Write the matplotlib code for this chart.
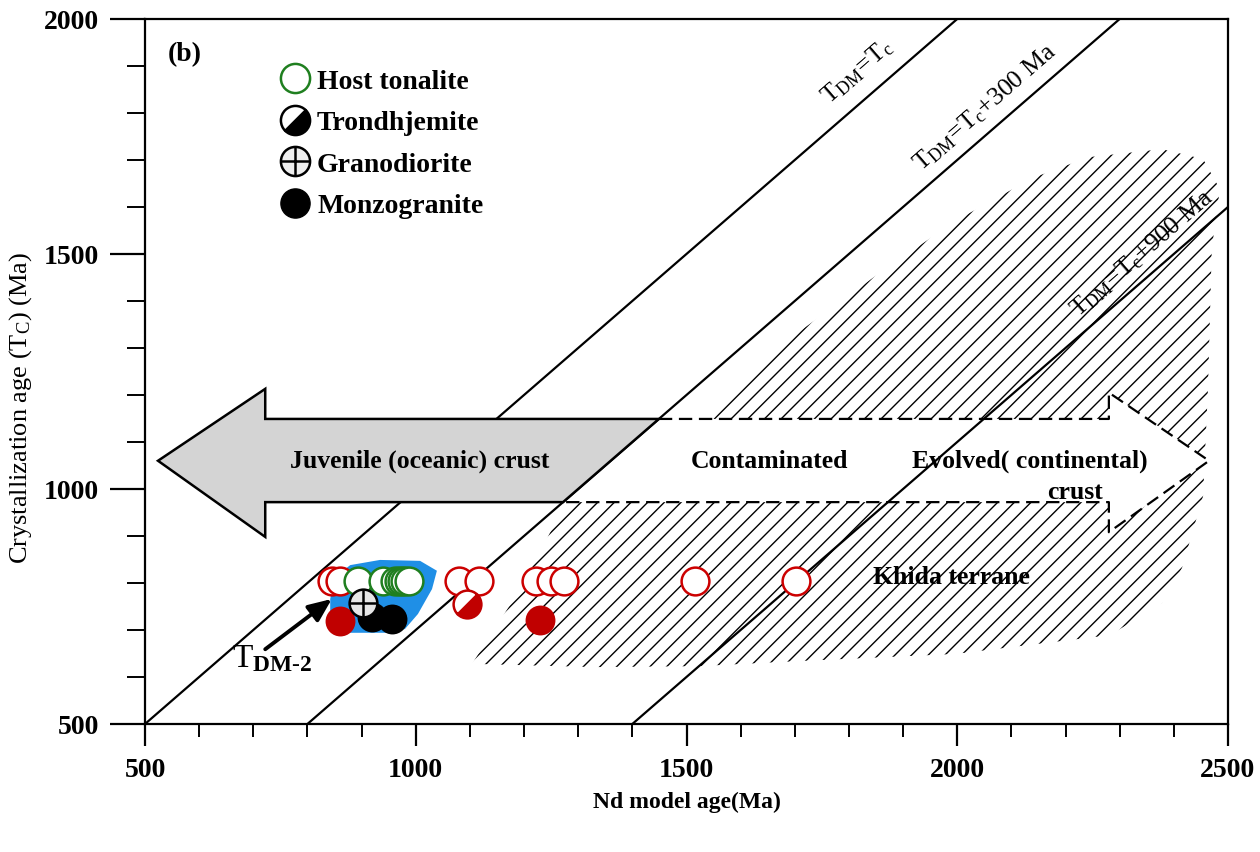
import numpy as np
import matplotlib
matplotlib.use('Agg')
import matplotlib.pyplot as plt
from matplotlib.patches import Polygon
from matplotlib.lines import Line2D
from matplotlib.markers import MarkerStyle
from matplotlib.transforms import Affine2D
from matplotlib.ticker import MultipleLocator

plt.rcParams['font.family'] = ['Liberation Serif', 'DejaVu Serif']
plt.rcParams['mathtext.fontset'] = 'custom'
plt.rcParams['mathtext.rm'] = 'Liberation Serif'
plt.rcParams['mathtext.bf'] = 'Liberation Serif:bold'
plt.rcParams['mathtext.it'] = 'Liberation Serif:italic'
plt.rcParams['hatch.linewidth'] = 1.0

# --- data (Ma) ---
# reference lines T_DM = Tc + offset
line_offsets = [0, 300, 900]
line_labels = [r'T$_{\mathregular{DM}}$=T$_{\mathregular{c}}$',
               r'T$_{\mathregular{DM}}$=T$_{\mathregular{c}}$+300 Ma',
               r'T$_{\mathregular{DM}}$=T$_{\mathregular{c}}$+900 Ma']
line_label_x = [1815, 2051, 2341]
line_label_y = [1889, 1813, 1502]

# red open circles (Nd model ages), all at the same crystallization age
red_open_x = [845, 860, 1080, 1116, 1222, 1249, 1273, 1516, 1703]
red_open_y = [805, 805, 805, 805, 805, 805, 805, 805, 805]
# host tonalite (green open)
green_x = [893, 940, 962, 969, 975, 981, 987]
green_y = [805, 805, 805, 805, 805, 805, 805]
# monzogranite (black filled)
black_x = [919, 956]
black_y = [728, 723]
# red filled
red_fill_x = [860, 1230]
red_fill_y = [720, 722]
# trondhjemite (red half filled)
red_half_x = [1095]
red_half_y = [755]
# granodiorite
grano_x = [903]
grano_y = [757]

# blue field around T_DM-2 samples
blue_x = [842, 851, 879, 934, 1008, 1039, 1030, 1004, 980, 943, 869, 842]
blue_y = [766, 813, 838, 849, 847, 826, 787, 734, 702, 694, 694, 713]

# Khida terrane hatched field
khida_x = [1104, 1193, 1276, 1549, 1654, 1844, 1996, 2140, 2243, 2378, 2454,
           2485, 2470, 2463, 2454, 2415, 2378, 2282, 1996, 1710, 1521, 1331]
khida_y = [628, 787, 968, 1149, 1289, 1449, 1570, 1662, 1706, 1723, 1702,
           1638, 1511, 1213, 985, 832, 757, 689, 649, 634, 623, 621]

# juvenile crust arrow (grey) and evolved crust arrow (dashed)
juv_x = [524, 722, 722, 1449, 1272, 722, 722]
juv_y = [1060, 1213, 1149, 1149, 972, 972, 898]
evo_x = [1449, 2280, 2280, 2465, 2280, 2280, 1272]
evo_y = [1149, 1149, 1205, 1060, 908, 972, 972]

# T_DM-2 pointer: tail and head
tdm2_tail = (722, 659)
tdm2_head = (845, 766)

fig = plt.figure(figsize=(12.6, 8.53), dpi=100)
ax = fig.add_axes([0.1151, 0.1501, 0.8595, 0.8265])
ax.set_xlim(500, 2500)
ax.set_ylim(500, 2000)

# hatched field
ax.add_patch(Polygon(np.column_stack([khida_x, khida_y]), closed=True,
                     facecolor='none', edgecolor='black', lw=0,
                     hatch='//', zorder=1))

# dashed arrow (white fill, covers hatch)
ax.fill(evo_x, evo_y, color='white', lw=0, zorder=2)
ax.plot(evo_x, evo_y, color='black', lw=1.6, dashes=(6, 3), zorder=3)

# reference lines
tdm = np.array([500, 2500])
for off in line_offsets:
    ax.plot(tdm, tdm - off, color='black', lw=1.6, zorder=3)
for lab, lx, ly in zip(line_labels, line_label_x, line_label_y):
    ax.text(lx, ly, lab, fontsize=18.5, rotation=45, transform_rotates_text=True,
            rotation_mode='anchor', ha='center', va='center', zorder=6)

# grey arrow
ax.fill(juv_x, juv_y, facecolor='#d4d4d4', edgecolor='black', lw=1.8, zorder=4)

# blue field
ax.fill(blue_x, blue_y, color='#1f8fe6', lw=0, zorder=4)

# samples
ms = 20
ax.plot(red_open_x, red_open_y, 'o', ms=ms, mfc='white', mec='#cc0000', mew=1.8, zorder=5)
ax.plot(green_x, green_y, 'o', ms=ms, mfc='white', mec='#1f7f1f', mew=1.8, zorder=5)
ax.plot(black_x, black_y, 'o', ms=ms, mfc='black', mec='black', mew=1.5, zorder=5)
ax.plot(red_fill_x, red_fill_y, 'o', ms=ms, mfc='#c00000', mec='#c00000', mew=1.5, zorder=5)
half = MarkerStyle('o', fillstyle='bottom', transform=Affine2D().rotate_deg(45))
ax.plot(red_half_x, red_half_y, ls='none', marker=half, ms=ms, mfc='#c00000',
        mfcalt='white', mec='#c00000', mew=1.8, zorder=5)
ax.plot(grano_x, grano_y, 'o', ms=ms, mfc='#e6e6e6', mec='black', mew=1.8, zorder=6)
ax.plot(grano_x, grano_y, '+', ms=ms, mec='black', mew=1.8, zorder=6)

# T_DM-2 pointer
ax.annotate('', xy=tdm2_head, xytext=tdm2_tail, zorder=7,
            arrowprops=dict(arrowstyle='-|>,head_length=1.4,head_width=0.6',
                            color='black', lw=2.8, shrinkA=0, shrinkB=0))
ax.text(tdm2_tail[0] + 12, tdm2_tail[1] - 18, r'T$_{\mathbf{DM\text{-}2}}$',
        fontsize=24, ha='center', va='center', zorder=7)

# region labels
tkw = dict(fontsize=18.5, fontweight='bold', ha='center', va='center', zorder=7)
ax.text(1008, 1060, 'Juvenile (oceanic) crust', **tkw)
ax.text(1654, 1060, 'Contaminated', **tkw)
ax.text(2134, 1060, 'Evolved( continental)', **tkw)
ax.text(2217, 994, 'crust', **tkw)
ax.text(1990, 813, 'Khida terrane', **tkw)
ax.text(574, 1926, '(b)', fontsize=20, fontweight='bold', ha='center', va='center')

# legend
lms = 21
h_host = Line2D([], [], ls='none', marker='o', ms=lms, mfc='white', mec='#1f7f1f', mew=1.8)
h_tron = Line2D([], [], ls='none', marker=half, ms=lms, mfc='black', mfcalt='white',
                mec='black', mew=1.8)
h_gr1 = Line2D([], [], ls='none', marker='o', ms=lms, mfc='#eeeeee', mec='black', mew=1.8)
h_gr2 = Line2D([], [], ls='none', marker='+', ms=lms, mec='black', mew=1.8)
h_mon = Line2D([], [], ls='none', marker='o', ms=lms, mfc='black', mec='black')
ax.legend([h_host, h_tron, (h_gr1, h_gr2), h_mon],
          ['Host tonalite', 'Trondhjemite', 'Granodiorite', 'Monzogranite'],
          loc='upper left', bbox_to_anchor=(0.123, 0.93), frameon=False,
          borderpad=0, borderaxespad=0, handlelength=1.2, handletextpad=0.2,
          labelspacing=0.58, prop=dict(family='Liberation Serif', weight='bold', size=20))

# axes styling
for s in ax.spines.values():
    s.set_linewidth(1.6)
ax.xaxis.set_major_locator(MultipleLocator(500))
ax.xaxis.set_minor_locator(MultipleLocator(100))
ax.yaxis.set_major_locator(MultipleLocator(500))
ax.yaxis.set_minor_locator(MultipleLocator(100))
ax.tick_params(axis='x', which='major', direction='out', length=16, width=1.6, pad=8)
ax.tick_params(axis='x', which='minor', direction='out', length=9, width=1.4)
ax.tick_params(axis='y', which='major', direction='out', length=25, width=1.6, pad=8)
ax.tick_params(axis='y', which='minor', direction='out', length=13, width=1.4)
for lab in ax.get_xticklabels() + ax.get_yticklabels():
    lab.set_fontsize(20)
    lab.set_fontweight('bold')

ax.set_xlabel('Nd model age(Ma)', fontsize=17, fontweight='bold', labelpad=6)
ax.set_ylabel(r'Crystallization age (T$_{\mathregular{C}}$) (Ma)', fontsize=19)
ax.yaxis.set_label_coords(-0.1025, 0.45)

fig.savefig('out.png', dpi=100)
